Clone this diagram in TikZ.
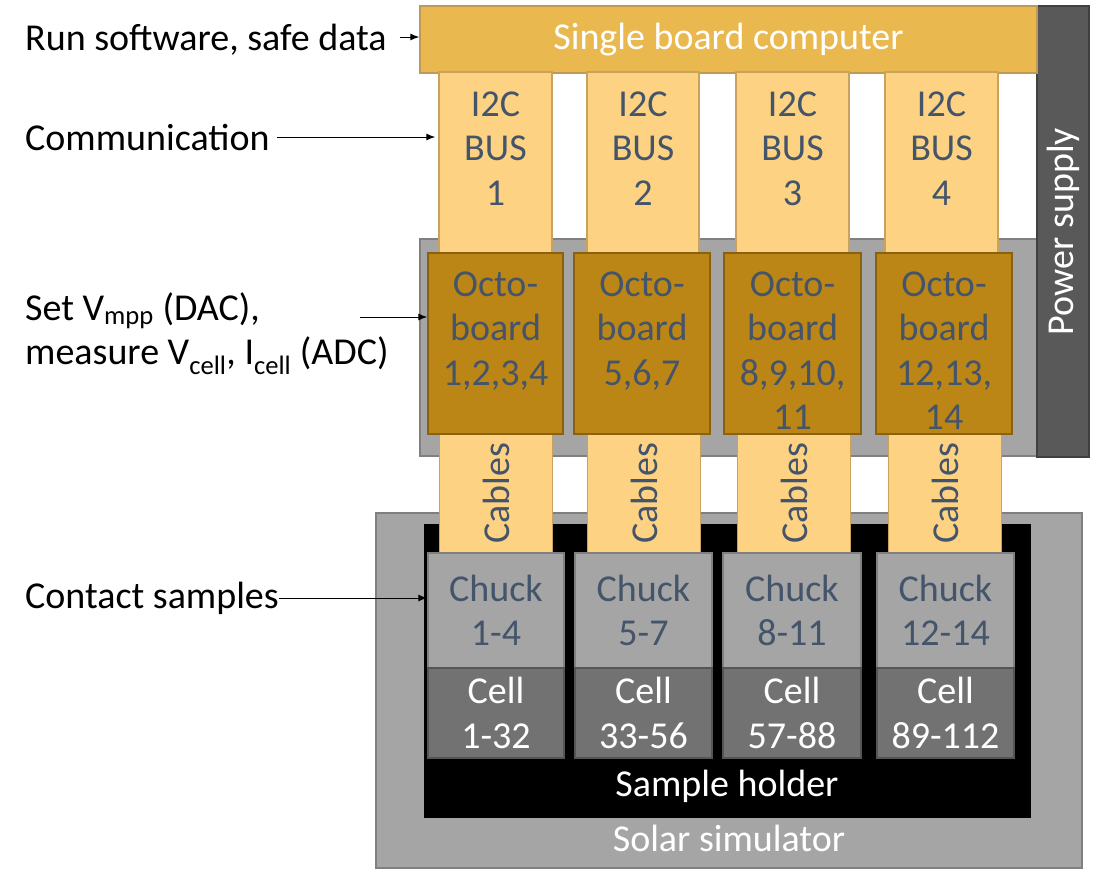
\documentclass[tikz,border=0pt]{standalone}
\usepackage{fontspec}
\setmainfont{Carlito}
\usepackage{tikz}
\usetikzlibrary{calc,arrows.meta,positioning}
\definecolor{navy}{HTML}{44546A}
\definecolor{sbcfill}{HTML}{E9B84F}
\definecolor{sbcline}{HTML}{BF9A55}
\definecolor{busfill}{HTML}{FDD383}
\definecolor{busline}{HTML}{C9A35E}
\definecolor{obfill}{HTML}{BC8617}
\definecolor{obline}{HTML}{8A6110}
\definecolor{greyfill}{HTML}{A5A5A5}
\definecolor{greyline}{HTML}{808080}
\definecolor{cellfill}{HTML}{727272}
\definecolor{cellline}{HTML}{555555}
\definecolor{psufill}{HTML}{595959}
\definecolor{psuline}{HTML}{404040}
\tikzset{
    txt/.style={
    inner sep=0pt,align=center,font=\fontsize{38}{44.5}\selectfont
    },
    box/.style={
    rectangle,line width=1.5pt,inner sep=0pt,align=center,font=\fontsize{38}{44.5}\selectfont
    },
    sbcbox/.style={
    box,fill=sbcfill,draw=sbcline,text=white
    },
    busbox/.style={
    box,fill=busfill,draw=busline,text=navy
    },
    obbox/.style={
    box,fill=obfill,draw=obline
    },
    greybox/.style={
    box,fill=greyfill,draw=greyline,text=navy
    },
    cellbox/.style={
    box,fill=cellfill,draw=cellline,text=white
    },
    psubox/.style={
    box,fill=psufill,draw=psuline,text=white
    },
    holderbox/.style={
    box,fill=black,draw=black
    },
    pointer/.style={
    -{Latex[length=9pt,width=7pt]},line width=1pt
    },
}
\begin{document}
\begin{tikzpicture}[x=1pt,y=-1pt]
   \useasboundingbox (0,0) rectangle (1109,884);
   % frames
   \node[greybox,minimum width=617pt,minimum height=217pt] (obframe) at (728.5,347.5) {};
   \node[psubox,rotate=90,minimum width=451pt,minimum height=52pt] (psu) at (1063,231.5) {Power supply};
   \node[sbcbox,minimum width=617pt,minimum height=67pt] (sbc) at (728.5,39.5) {Single board computer};
   \node[greybox,minimum width=706pt,minimum height=355pt] (solar) at (729,690.5) {};
   \node[holderbox,minimum width=605pt,minimum height=292pt] (holder) at (727.5,671) {};
   \node[txt,text=white] (holderlbl) at (727,786) {Sample holder};
   \node[txt,text=white] (solarlbl) at (729,838) {Solar simulator};
   % I2C buses
   \node[busbox,minimum width=113pt,minimum height=183pt] (bus1) at (495.5,163.5) {};
   \node[busbox,minimum width=112pt,minimum height=183pt] (bus2) at (643,163.5) {};
   \node[busbox,minimum width=113pt,minimum height=183pt] (bus3) at (792.5,163.5) {};
   \node[busbox,minimum width=113pt,minimum height=183pt] (bus4) at (941.5,163.5) {};
   \node[txt,text=navy,below=20pt of bus1.north] (bus1lbl) {I2C\\BUS\\1};
   \node[txt,text=navy,below=20pt of bus2.north] (bus2lbl) {I2C\\BUS\\2};
   \node[txt,text=navy,below=20pt of bus3.north] (bus3lbl) {I2C\\BUS\\3};
   \node[txt,text=navy,below=20pt of bus4.north] (bus4lbl) {I2C\\BUS\\4};
   % cables
   \node[busbox,rotate=90,minimum width=119pt,minimum height=113pt] (cable1) at (496,493.5) {Cables};
   \node[busbox,rotate=90,minimum width=119pt,minimum height=113pt] (cable2) at (644,493.5) {Cables};
   \node[busbox,rotate=90,minimum width=119pt,minimum height=113pt] (cable3) at (794,493.5) {Cables};
   \node[busbox,rotate=90,minimum width=119pt,minimum height=113pt] (cable4) at (945,493.5) {Cables};
   % octoboards
   \node[obbox,minimum width=135pt,minimum height=181pt] (ob1) at (495.5,343.5) {};
   \node[obbox,minimum width=136pt,minimum height=181pt] (ob2) at (642,343.5) {};
   \node[obbox,minimum width=137pt,minimum height=181pt] (ob3) at (792.5,343.5) {};
   \node[obbox,minimum width=136pt,minimum height=181pt] (ob4) at (944,343.5) {};
   \node[txt,text=navy,below=19pt of ob1.north] (ob1lbl) {Octo-\\board\\1,2,3,4};
   \node[txt,text=navy,below=19pt of ob2.north] (ob2lbl) {Octo-\\board\\5,6,7};
   \node[txt,text=navy,below=19pt of ob3.north] (ob3lbl) {Octo-\\board\\8,9,10,\\11};
   \node[txt,text=navy,below=19pt of ob4.north] (ob4lbl) {Octo-\\board\\12,13,\\14};
   % chucks and cells
   \node[greybox,minimum width=136pt,minimum height=115pt] (chuck1) at (496,610.5) {Chuck\\1-4};
   \node[greybox,minimum width=137pt,minimum height=115pt] (chuck2) at (643.5,610.5) {Chuck\\5-7};
   \node[greybox,minimum width=138pt,minimum height=115pt] (chuck3) at (792,610.5) {Chuck\\8-11};
   \node[greybox,minimum width=137pt,minimum height=115pt] (chuck4) at (945.5,610.5) {Chuck\\12-14};
   \node[cellbox,minimum width=136pt,minimum height=90pt] (cell1) at (496,713) {Cell\\1-32};
   \node[cellbox,minimum width=137pt,minimum height=90pt] (cell2) at (643.5,713) {Cell\\33-56};
   \node[cellbox,minimum width=138pt,minimum height=90pt] (cell3) at (792,713) {Cell\\57-88};
   \node[cellbox,minimum width=137pt,minimum height=90pt] (cell4) at (945.5,713) {Cell\\89-112};
   % left labels
   \node[txt,anchor=west] (runlbl) at (25,40) {Run software, safe data};
   \node[txt,anchor=west] (commlbl) at (25,137) {Communication};
   \node[txt,anchor=north west,align=left] (setlbl) at (25,292) {Set V\textsubscript{mpp} (DAC),\\measure V\textsubscript{cell}, I\textsubscript{cell} (ADC)};
   \node[txt,anchor=west] (contactlbl) at (25,598) {Contact samples};
   \coordinate (setarr) at (360,317);

  \draw[pointer] ([xshift=13pt,yshift=3pt]runlbl.east) -- ([yshift=3pt]runlbl.east -| sbc.west);
  \draw[pointer] ([xshift=7pt]commlbl.east) -- ([xshift=-3pt]commlbl.east -| bus1.west);
  \draw[pointer] (setarr) -- (setarr -| ob1.west);
  \draw[pointer] (contactlbl.east) -- (contactlbl.east -| chuck1.west);
  \end{tikzpicture}
\end{document}
